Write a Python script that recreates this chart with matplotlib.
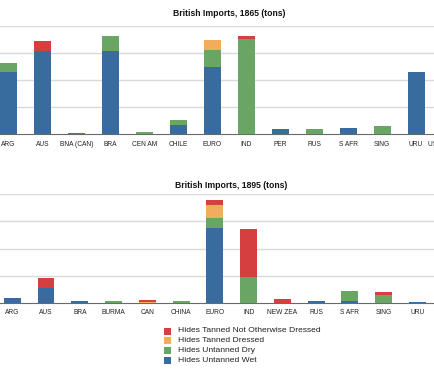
import matplotlib
matplotlib.use("Agg")
import matplotlib.pyplot as plt
from matplotlib.patches import Rectangle
import numpy as np

# ---- data (tons) ----
cats_1865 = ["ARG", "AUS", "BNA (CAN)", "BRA", "CEN AM", "CHILE", "EURO", "IND",
             "PER", "RUS", "S AFR", "SING", "URU", "USA & OTHER"]
wet_1865 = [2310, 3070, 0, 3070, 0, 340, 2470, 0, 210, 0, 240, 0, 2310, 1500]
dry_1865 = [330, 0, 0, 570, 70, 200, 640, 3520, 0, 180, 0, 320, 0, 0]
dressed_1865 = [0, 0, 0, 0, 0, 0, 380, 0, 0, 0, 0, 0, 0, 0]
nod_1865 = [0, 370, 50, 0, 0, 0, 0, 120, 0, 0, 0, 0, 0, 0]

cats_1895 = ["ARG", "AUS", "BRA", "BURMA", "CAN", "CHINA", "EURO", "IND",
             "NEW ZEA", "RUS", "S AFR", "SING", "URU"]
wet_1895 = [190, 560, 60, 0, 0, 0, 2760, 0, 0, 50, 70, 0, 40]
dry_1895 = [0, 0, 0, 60, 0, 50, 370, 960, 0, 0, 370, 270, 0]
dressed_1895 = [0, 0, 0, 0, 40, 0, 480, 0, 0, 0, 0, 0, 0]
nod_1895 = [0, 340, 0, 0, 60, 0, 170, 1770, 130, 0, 0, 120, 0]

series_names = ["Hides Tanned Not Otherwise Dressed", "Hides Tanned Dressed",
                "Hides Untanned Dry", "Hides Untanned Wet"]
colors = {"nod": "#d63f3f", "dressed": "#f0ae5c", "dry": "#6aa663", "wet": "#386c9e"}

W, H = 435, 375
fig = plt.figure(figsize=(W / 100, H / 100), dpi=100)
fig.patch.set_facecolor("white")

FONT = ["Liberation Sans", "DejaVu Sans"]


def px_rect(x0, x1, ybase, ytop):
    return [x0 / W, 1 - ybase / H, (x1 - x0) / W, (ybase - ytop) / H]


def draw(ax, cats, wet, dry, dressed, nod, nslots=14):
    x = np.arange(len(cats))
    wet = np.array(wet); dry = np.array(dry)
    dressed = np.array(dressed); nod = np.array(nod)
    bw = 0.5
    ax.bar(x, wet, bw, color=colors["wet"], zorder=3)
    ax.bar(x, dry, bw, bottom=wet, color=colors["dry"], zorder=3)
    ax.bar(x, dressed, bw, bottom=wet + dry, color=colors["dressed"], zorder=3)
    ax.bar(x, nod, bw, bottom=wet + dry + dressed, color=colors["nod"], zorder=3)
    ax.set_xlim(-0.5, nslots - 0.5)
    ax.set_ylim(0, 4000)
    ax.set_yticks([1000, 2000, 3000, 4000])
    ax.set_yticklabels([])
    ax.tick_params(axis="y", length=0)
    ax.grid(axis="y", color="#d9d9d9", linewidth=1.0, zorder=0)
    ax.set_axisbelow(True)
    for s in ["top", "right", "left"]:
        ax.spines[s].set_visible(False)
    ax.spines["bottom"].set_color("#6a6a6a")
    ax.spines["bottom"].set_linewidth(0.8)
    ax.set_xticks(x)
    ax.set_xticklabels(cats, fontsize=4.8, family=FONT, color="#222222")
    ax.tick_params(axis="x", length=0, pad=4.5)


ax1 = fig.add_axes(px_rect(-8.5, 467, 134.3, 25.9))
draw(ax1, cats_1865, wet_1865, dry_1865, dressed_1865, nod_1865)

ax2 = fig.add_axes(px_rect(-4.6, 468, 302.7, 194.3))
draw(ax2, cats_1895, wet_1895, dry_1895, dressed_1895, nod_1895)

fig.text(229 / W, 1 - 14 / H, "British Imports, 1865 (tons)", ha="center", va="center",
         fontsize=6.2, fontweight="bold", family=FONT, color="#111111")
fig.text(231 / W, 1 - 186 / H, "British Imports, 1895 (tons)", ha="center", va="center",
         fontsize=6.2, fontweight="bold", family=FONT, color="#111111")

# legend
leg_colors = [colors["nod"], colors["dressed"], colors["dry"], colors["wet"]]
ys = [331, 340.7, 350.4, 360]
for name, c, y in zip(series_names, leg_colors, ys):
    fig.add_artist(Rectangle((164 / W, 1 - (y + 3.5) / H), 7 / W, 7 / H,
                             transform=fig.transFigure, facecolor=c, edgecolor="none"))
    fig.text(178 / W, 1 - y / H, name, ha="left", va="center", fontsize=6.1,
             family=FONT, color="#222222")

fig.savefig("out.png", dpi=100, facecolor="white")
